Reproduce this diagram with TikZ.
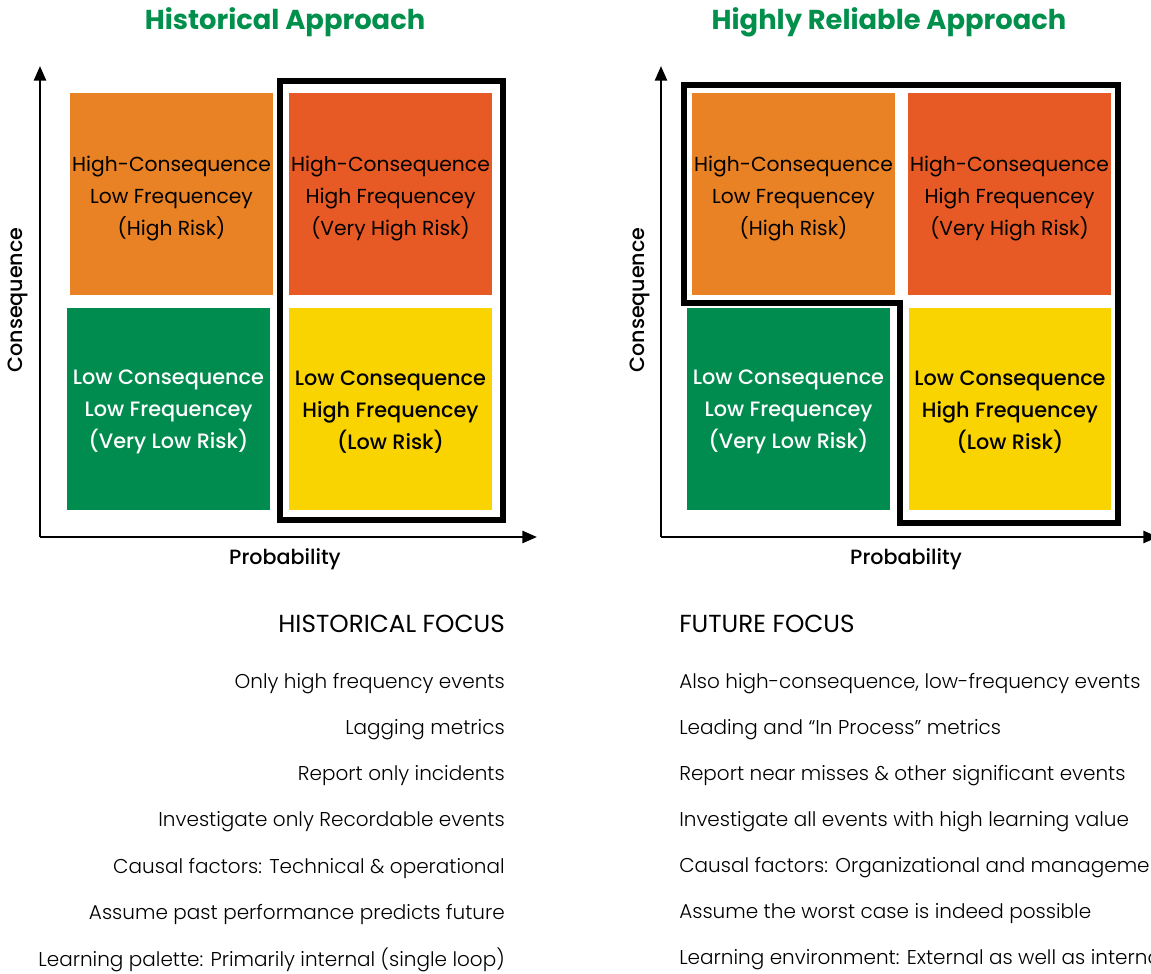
\documentclass[tikz,border=0pt]{standalone}
\usepackage{fontspec}
\setmainfont{Poppins}
\newfontfamily\lightfont{Poppins Light}
\newfontfamily\medfont{Poppins Medium}
\usetikzlibrary{arrows.meta}

\definecolor{titlegreen}{HTML}{00904C}
\definecolor{cellorange}{HTML}{E98125}
\definecolor{cellred}{HTML}{E85A25}
\definecolor{cellgreen}{HTML}{008C4F}
\definecolor{cellyellow}{HTML}{FAD400}

\begin{document}
\begin{tikzpicture}[x=0.75pt,y=-0.75pt,
  title/.style={font=\bfseries\fontsize{20.5pt}{24pt}\selectfont, text=titlegreen, inner sep=0pt},
  cell/.style={minimum width=152pt, minimum height=151.5pt, inner sep=0pt},
  celltext/.style={inner sep=0pt, align=center, font=\fontsize{15.2pt}{24pt}\selectfont},
  celltextmed/.style={celltext, font=\medfont\fontsize{15.6pt}{24pt}\selectfont},
  axis/.style={line width=1.9pt, -{Triangle[length=11pt,width=9pt]}},
  axislabel/.style={font=\medfont\fontsize{15.5pt}{18pt}\selectfont, inner sep=0pt},
  frame/.style={line width=4.5pt, line join=miter},
  head/.style={font=\fontsize{18.5pt}{21pt}\selectfont, inner sep=0pt},
  item/.style={font=\lightfont\fontsize{15pt}{18pt}\selectfont, inner sep=0pt}
]
\useasboundingbox (0,0) rectangle (1151,973);
\clip (0,0) rectangle (1151,973);

% ---------- left panel: historical approach ----------
\node[title] (tL) at (285,22) {Historical Approach};

\node[cell, fill=cellorange] (oL) at (171.5,194) {};
\node[cell, fill=cellred] (rL) at (390.5,194) {};
\node[cell, fill=cellgreen] (gL) at (168.5,409) {};
\node[cell, fill=cellyellow] (yL) at (390.5,409) {};
\node[celltext] (oLt) at ([yshift=-3.75pt]oL.center) {High-Consequence\\Low Frequencey\\(High Risk)};
\node[celltext] (rLt) at ([yshift=-3.75pt]rL.center) {High-Consequence\\High Frequencey\\(Very High Risk)};
\node[celltextmed, text=white] (gLt) at ([yshift=-2.5pt]gL.center) {Low Consequence\\Low Frequencey\\(Very Low Risk)};
\node[celltextmed] (yLt) at ([yshift=-2.5pt]yL.center) {Low Consequence\\High Frequencey\\(Low Risk)};

\draw[frame] (280,81) rectangle (503,520);

\coordinate (originL) at (40,537);
\coordinate (topL) at (40,66);
\coordinate (rightL) at (537,537);
\draw[axis] (originL) -- (topL);
\draw[axis] (originL) -- (rightL);
\node[axislabel, rotate=90] (cL) at (18,300) {Consequence};
\node[axislabel] (pL) at (285,559) {Probability};

% ---------- right panel: highly reliable approach ----------
\node[title] (tR) at (889,22) {Highly Reliable Approach};

\node[cell, fill=cellorange] (oR) at (793.5,194) {};
\node[cell, fill=cellred] (rR) at (1009.5,194) {};
\node[cell, fill=cellgreen] (gR) at (788.5,409) {};
\node[cell, fill=cellyellow] (yR) at (1010,409) {};
\node[celltext] (oRt) at ([yshift=-3.75pt]oR.center) {High-Consequence\\Low Frequencey\\(High Risk)};
\node[celltext] (rRt) at ([yshift=-3.75pt]rR.center) {High-Consequence\\High Frequencey\\(Very High Risk)};
\node[celltextmed, text=white] (gRt) at ([yshift=-2.5pt]gR.center) {Low Consequence\\Low Frequencey\\(Very Low Risk)};
\node[celltextmed] (yRt) at ([yshift=-2.5pt]yR.center) {Low Consequence\\High Frequencey\\(Low Risk)};

\draw[frame] (684,85) -- (1118,85) -- (1118,523) -- (900,523) -- (900,303) -- (684,303) -- cycle;

\coordinate (originR) at (661,537);
\coordinate (topR) at (661,66);
\coordinate (rightR) at (1158,537);
\draw[axis] (originR) -- (topR);
\draw[axis] (originR) -- (rightR);
\node[axislabel, rotate=90] (cR) at (640,300) {Consequence};
\node[axislabel] (pR) at (906,559) {Probability};

% ---------- focus lists ----------
\node[head, anchor=east] (hL) at (505,624) {HISTORICAL FOCUS};
\node[head, anchor=west] (hR) at (679,624) {FUTURE FOCUS};

\foreach \n/\y/\txt in {1/684/Only high frequency events,
                        2/730/Lagging metrics,
                        3/776/Report only incidents,
                        4/822/Investigate only Recordable events,
                        5/868/{Causal factors: Technical \& operational},
                        6/914/Assume past performance predicts future,
                        7/960/Learning palette: Primarily internal (single loop)}
  \node[item, anchor=east] (l\n) at (505,\y) {\txt};

\foreach \n/\y/\txt in {1/684/{Also high-consequence, low-frequency events},
                        2/730/Leading and “In Process” metrics,
                        3/776/Report near misses \& other significant events,
                        4/822/Investigate all events with high learning value,
                        5/868/Causal factors: Organizational and management,
                        6/914/Assume the worst case is indeed possible,
                        7/960/Learning environment: External as well as internal}
  \node[item, anchor=west] (r\n) at (679,\y) {\txt};

\end{tikzpicture}
\end{document}
